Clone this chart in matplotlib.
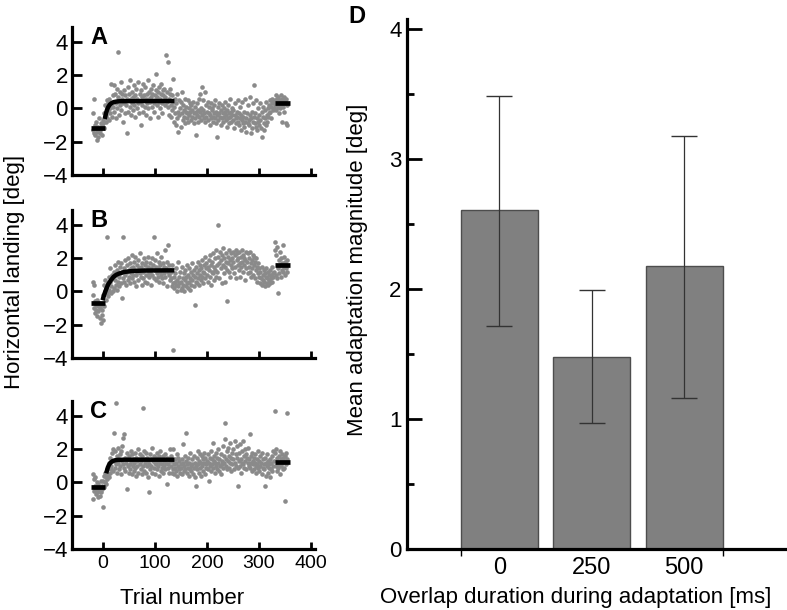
import numpy as np
import matplotlib
matplotlib.use("Agg")
import matplotlib.pyplot as plt

plt.rcParams['font.family'] = ['Liberation Sans', 'DejaVu Sans']

# ---- panel A: horizontal landing per trial ----
a_pre = [-1.3, -0.3, 0.6, -1.5, -1.0, -1.6, -1.2, -0.8, -1.9, -1.4,
         -1.1, -1.7, -0.6, -1.3, -1.5, -0.9, -1.2, -1.6, -1.0, -0.7]
a_adapt = [-0.9, -0.3, -1.2, -0.5, 0.2, -0.8, -0.4, 0.5, -0.6, -0.1,
           0.3, -0.7, 0.6, 0.0, -0.3, 1.5, 0.2, -0.5, 0.8, 0.1,
           1.4, -0.2, 0.4, 0.9, -0.6, 0.3, 1.2, 0.0, 0.7, 3.4,
           0.5, -0.4, 1.0, 0.2, 1.6, -0.1, 0.6, 0.9, -0.8, 0.3,
           1.1, 0.4, -0.3, 0.8, 0.2, -1.5, 0.6, 1.3, -0.2, 0.5,
           0.9, 0.1, 1.7, -0.4, 0.6, 0.3, 1.0, -0.1, 0.7, 1.4,
           0.2, 0.8, -0.5, 0.5, 1.2, 0.0, 0.6, 1.6, 0.3, -0.3,
           0.9, 0.4, -1.0, 1.1, 0.2, 0.7, 1.5, -0.2, 0.5, 0.8,
           0.1, 1.3, 0.6, -0.4, 0.9, 0.3, 1.7, 0.0, 0.6, 1.0,
           -0.6, 0.4, 1.2, 0.7, 0.1, 0.9, 1.4, 0.3, -0.2, 0.8,
           0.5, 1.1, 2.1, 0.2, 0.7, -0.5, 1.0, 0.4, 1.3, 0.6,
           0.0, 0.9, 1.5, 0.3, -0.3, 0.8, 1.1, 0.5, 1.2, 0.2,
           0.7, 3.2, 0.4, 1.0, 2.8, 0.1, 0.6, -0.4, 0.9, 1.2]
a_post = [0.2, -0.5, 0.8, -0.1, 1.8, 0.4, -0.8, 0.1, -0.3, 0.6,
          -1.0, 0.3, -0.6, 0.9, -1.4, -0.2, 0.5, -0.4, 0.0, -1.1,
          0.4, -0.3, 1.0, -0.7, 0.2, -0.5, -0.1, 0.6, -0.9, -0.2,
          0.1, -0.6, -0.3, 0.5, -0.8, 0.0, -0.4, 0.3, -0.2, -0.7,
          0.2, -0.5, -0.1, 0.4, -0.9, -0.3, 0.1, -0.6, -0.2, -1.6,
          -0.4, 0.3, -0.8, -0.1, 0.6, -0.5, -0.2, 0.9, -0.7, 0.0,
          1.3, -0.4, -0.1, 0.5, -0.6, -0.3, 1.0, -0.8, 0.2, -0.5,
          -0.2, 0.4, -0.7, -0.3, 0.1, -1.0, -0.4, 0.3, -0.6, -0.1,
          0.0, -0.5, -0.8, 0.2, -0.3, -0.6, 0.5, -0.9, -0.2, -1.7,
          -0.4, 0.1, -0.7, -0.3, 0.3, -0.5, -1.0, -0.1, -0.6, 0.2,
          -0.3, -0.8, 0.0, -0.5, -0.2, 0.4, -0.7, -0.4, -1.1, -0.1,
          -0.6, 0.2, -0.3, -0.9, 0.6, -0.5, -0.2, -0.8, 0.0, -0.4,
          -0.7, -0.1, -1.2, -0.4, 0.3, -0.6, -0.9, -0.2, -0.5, 0.5,
          -0.8, -0.3, -1.0, -0.6, 0.1, -1.3, -0.4, -0.7, 0.4, -0.9,
          -0.5, -1.1, -0.2, -0.8, 0.6, -0.6, -1.4, -0.3, -0.9, 0.2,
          -0.7, -1.0, -0.4, 0.7, -1.5, -0.6, -0.2, -1.2, -0.8, 0.3,
          -0.5, 1.4, -0.9, -0.3, -1.1, 0.5, -0.6, -1.3, 0.0, -0.8,
          -0.4, -1.0, 0.3, -0.7, -1.2, -0.2, -1.7, -0.5, 0.1, -0.9,
          -1.3, -0.6, -0.1, -1.0, 0.4, -0.4, -0.8, 0.0, -0.5, 0.2,
          -0.3, 0.5, -0.2, 0.1, -0.6, 0.6, 0.3, -0.1, 0.4, 0.0]
a_end = [0.5, 0.2, 0.8, -0.1, 0.4, 0.6, 0.1, 0.7, -0.3, 0.3,
         0.5, 0.0, 0.8, 0.2, -0.8, 0.6, 0.4, 0.1, 0.7, -0.2,
         0.5, 0.3, 0.6, -0.9, 0.2, -1.0]

# ---- panel B ----
b_pre = [0.6, -0.2, 0.4, -1.0, -0.6, -1.3, -0.8, -1.1, -0.5, -1.5,
         -0.9, -1.2, -0.7, -1.6, -1.0, -1.9, -0.8, -1.4, -1.1, -1.7]
b_adapt = [-0.2, 0.4, -0.9, 0.0, 0.7, -0.5, 0.2, -0.1, 3.3, 0.5,
           -0.3, 0.9, 0.1, 0.6, 1.4, -0.1, 0.3, 1.0, 0.0, 0.8,
           1.2, 0.2, 0.7, 1.6, 0.4, 1.0, 0.1, 1.3, 0.6, 1.8,
           0.9, 0.3, 1.5, 1.1, 0.5, 1.7, -0.4, 1.2, 0.8, 3.3,
           1.4, 0.6, 1.9, 1.0, 0.4, 1.6, 1.2, 0.7, 2.0, 1.3,
           0.9, 1.7, 0.5, 1.4, 1.1, 2.2, 0.8, 1.5, 1.0, 1.8,
           0.6, 1.3, 2.1, 1.0, 0.3, 1.6, 1.2, 1.9, 0.7, 1.4,
           1.1, 2.3, 0.9, 1.5, 0.4, 1.7, 1.2, 0.8, 2.0, 1.3,
           1.6, 0.6, 1.0, 1.8, 1.3, 0.5, 1.5, 2.1, 1.1, 0.9,
           1.7, 1.2, 0.4, 1.4, 2.0, 1.0, 1.6, 0.8, 3.3, 1.3,
           1.9, 0.7, 1.5, 1.1, 2.3, 0.9, 1.4, 1.8, 0.6, 1.2,
           1.6, 1.0, 2.1, 0.8, 1.3, 1.7, 0.5, 1.5, 1.1, 2.5,
           0.9, 1.4, 1.8, 0.3, 1.2, 2.8, 1.0, 1.6, 0.7, 1.3]
b_post = [0.8, 1.2, 0.3, 1.6, 0.5, -3.5, 0.9, 0.2, 1.1, 0.6,
          0.4, 1.4, 0.0, 0.7, 1.8, 0.3, 0.9, 0.5, 1.2, 0.1,
          0.6, 1.5, 0.2, 0.8, 0.4, 1.1, 0.0, 0.7, 1.3, 0.3,
          0.9, 0.5, 1.6, 0.2, 1.0, 0.6, 1.4, 0.1, 0.8, 1.2,
          0.4, 1.7, 0.7, 1.0, 0.3, 1.3, -0.8, 0.9, 1.5, 0.6,
          1.1, 0.5, 1.8, 0.8, 1.3, 0.4, 1.6, 1.0, 0.7, 1.4,
          1.9, 0.9, 1.2, 0.5, 1.6, 1.1, 2.1, 0.8, 1.4, 1.7,
          1.0, 1.5, 0.6, 1.9, 1.3, 2.2, 0.9, 1.6, 0.4, 1.2,
          1.8, 1.1, 2.3, 0.7, 1.5, 2.0, 1.3, 0.9, 2.5, 1.6,
          1.2, 2.1, 4.0, 1.7, 0.8, 2.4, 1.4, 1.9, 0.5, 2.2,
          1.6, 2.6, 1.1, 2.0, 1.5, 0.6, 2.3, 1.8, -0.6, 1.3,
          2.1, 1.7, 2.5, 1.2, 1.9, 0.9, 2.3, 1.6, 2.0, 1.4,
          2.4, 1.8, 1.1, 2.2, 1.5, 2.5, 0.8, 1.9, 2.3, 1.6,
          2.0, 1.3, 2.4, 1.7, 0.9, 2.1, 1.5, 2.5, 1.8, 1.2,
          2.2, 1.6, 2.0, 0.7, 1.9, 2.4, 1.4, 1.8, 1.1, 2.3,
          1.5, 2.0, 1.2, 2.4, 1.7, 0.9, 1.9, 1.4, 2.2, 1.0,
          1.6, 2.1, 0.8, 1.8, 1.3, 2.0, 0.6, 1.5, 1.1, 1.7,
          0.9, 1.4, 0.5, 1.2, 0.8, 1.5, 0.4, 1.0, 0.7, 1.3,
          0.6, 1.1, 0.3, 0.9, 1.4, 0.5, 0.8, 1.2, 0.4, 1.0,
          0.7, 1.3, 0.5, 1.0, 0.8, 1.5, 0.6, 1.1, 0.9, 1.2]
b_end = [2.5, 3.0, 1.0, 2.2, 0.8, 2.7, -0.1, 1.4, 1.9, 1.1,
         2.4, 1.6, 0.9, 2.0, 1.3, 1.7, 2.8, 1.2, 1.5, 2.1,
         1.0, 1.8, 1.4, 1.6, 1.2, 1.9]

# ---- panel C ----
c_pre = [0.5, -1.0, 0.2, -0.5, -0.2, 0.3, -0.7, -0.4, 0.0, -0.6,
         -0.9, -0.1, -0.5, -0.3, -0.8, 0.1, -0.6, -0.2, -0.4, -1.5]
c_adapt = [0.1, -0.3, 0.4, 0.0, 0.6, -0.1, 0.3, 0.8, 0.2, 0.5,
           0.9, 0.3, 1.2, 0.6, 1.5, 0.8, 1.0, 1.8, 0.7, 2.0,
           3.0, 1.3, 0.9, 1.9, 1.1, 4.8, 0.6, 1.6, 1.2, 2.1,
           0.8, 1.4, 1.7, 1.0, 1.9, 0.5, 1.3, 2.2, 2.7, 1.1,
           0.9, 2.9, 1.5, 0.7, 1.2, 1.8, -0.4, 1.0, 1.4, 0.6,
           1.6, 1.1, 0.8, 1.9, 1.3, 0.5, 1.7, 1.0, 1.4, 0.7,
           1.2, 1.8, 0.9, 1.5, 0.4, 1.3, 1.0, 2.0, 0.6, 1.4,
           1.1, 1.7, 0.8, 1.3, 0.5, 1.6, 4.5, 1.0, 1.9, 0.7,
           1.4, 1.2, 0.6, 1.8, 1.0, 1.5, 0.3, 1.3, -0.6, 1.1,
           1.7, 0.8, 1.4, 1.0, 2.1, 0.6, 1.3, 1.6, 0.9, 1.2,
           0.5, 1.5, 1.1, 1.8, 0.8, 1.3, 1.0, 1.6, 0.4, 1.2,
           1.9, 0.7, 1.4, 1.1, 0.9, 1.6, 0.6, 1.3, 1.0, 1.7,
           0.8, 1.2, 1.5, -0.1, 1.1, 0.9, 1.4, 0.6, 1.3, 2.0]
c_post = [1.0, 1.6, 0.6, 1.3, 0.8, 2.0, 1.1, 0.5, 1.4, 0.9,
          1.2, 0.7, 1.7, 0.4, 1.0, 1.5, 0.8, 1.3, 0.6, 1.1,
          0.9, 1.4, 0.5, 1.2, 2.3, 0.7, 1.0, 1.6, 0.8, 3.0,
          1.3, 0.6, 1.1, 0.9, 1.5, 0.4, 1.2, 0.8, 1.8, 1.0,
          0.7, 1.4, 1.1, 0.5, 1.6, 0.9, 1.2, 0.3, -0.2, 1.0,
          1.5, 0.8, 1.9, 1.1, 0.6, 1.3, 1.7, 0.9, 1.2, 0.4,
          1.6, 1.0, 1.4, 0.7, 1.8, 1.2, 0.5, 1.5, 1.1, 0.9,
          1.3, 1.7, 0.8, 1.2, 0.1, 1.5, 1.0, 1.9, 0.7, 1.4,
          1.1, 2.4, 0.9, 1.3, 1.6, 0.6, 1.2, 1.8, 1.0, 0.8,
          1.5, 1.2, 2.0, 0.7, 1.4, 1.0, 1.7, 0.5, 1.3, 1.1,
          2.2, 0.9, 1.6, 1.2, 2.6, 3.6, 1.0, 1.4, 0.8, 1.9,
          1.3, 2.1, 0.9, 1.6, 1.2, 2.4, 0.7, 1.5, 1.1, 1.8,
          1.4, 2.0, 0.8, 2.5, 1.2, 1.7, 1.0, 2.2, 1.5, 0.9,
          -0.2, 1.3, 1.8, 1.0, 2.3, 1.4, 0.6, 1.9, 1.2, 2.5,
          1.1, 1.6, 0.9, 2.0, 1.3, 1.7, 0.8, 1.5, 1.2, 2.1,
          1.0, 1.4, 2.9, 0.9, 1.6, 1.2, 1.8, 0.7, 1.3, 1.1,
          1.5, 0.8, 1.2, 1.7, 1.0, 0.6, 1.4, 1.1, 1.9, 0.9,
          1.3, 0.7, 1.6, 1.0, 1.2, 0.5, 1.8, 0.9, 1.4, 1.1,
          0.8, 1.5, -0.2, 1.2, 0.4, 1.0, 1.7, 0.6, 1.3, 0.9,
          1.1, 0.3, 1.4, 0.8, 1.2, 1.6, 0.7, 1.0, 1.9, 1.3]
c_end = [4.3, 1.8, 1.0, 2.0, 0.7, 1.5, 1.2, 0.9, 1.6, 1.1,
         1.9, 0.5, 1.4, 1.0, 1.7, 1.2, 0.8, 1.5, 1.3, 0.9,
         -1.1, 1.6, 1.1, 1.8, 4.2, 1.4]

# fitted curves and mean segments
fit_x = {'A': [4, 6, 8, 10, 13, 16, 20, 26, 35, 133],
         'B': [0, 3, 6, 10, 15, 20, 25, 30, 40, 55, 80, 133],
         'C': [7, 9, 11, 13, 15, 18, 22, 28, 40, 133]}
fit_y = {'A': [-0.5, -0.23, -0.03, 0.10, 0.24, 0.32, 0.38, 0.42, 0.44, 0.45],
         'B': [-0.4, -0.10, 0.15, 0.45, 0.68, 0.88, 1.0, 1.07, 1.17, 1.23, 1.26, 1.27],
         'C': [0.68, 0.90, 1.04, 1.14, 1.21, 1.28, 1.33, 1.36, 1.37, 1.37]}
base_level = {'A': -1.2, 'B': -0.72, 'C': -0.28}
end_level = {'A': 0.3, 'B': 1.6, 'C': 1.25}

# ---- panel D: bars ----
overlap = ['0', '250', '500']
mean_adapt = [2.61, 1.48, 2.18]
err_low = [1.72, 0.97, 1.16]
err_high = [3.49, 1.99, 3.18]

W, H = 787, 610
def rect(l, t, r, b):
    return [l / W, 1 - b / H, (r - l) / W, (b - t) / H]

fig = plt.figure(figsize=(7.87, 6.10), dpi=100)
dot = '#8a8a8a'

panels = [('A', a_pre + a_adapt + a_post + a_end, 27, 175),
          ('B', b_pre + b_adapt + b_post + b_end, 210, 358),
          ('C', c_pre + c_adapt + c_post + c_end, 401, 549)]
for name, ys, top, bot in panels:
    ax = fig.add_axes(rect(72, top, 315, bot))
    trials = np.arange(-20, -20 + len(ys))
    ax.scatter(trials, ys, s=11, color=dot, linewidths=0, zorder=2)
    ax.plot(fit_x[name], fit_y[name], color='black', lw=3.2, zorder=3)
    ax.plot([-23, 4], [base_level[name]] * 2, color='black', lw=3.4,
            solid_capstyle='butt', zorder=3)
    ax.plot([331, 360], [end_level[name]] * 2, color='black', lw=3.4,
            solid_capstyle='butt', zorder=3)
    ax.set_xlim(-60, 408)
    ax.set_ylim(-4, 4.9)
    ax.set_yticks([-4, -2, 0, 2, 4])
    ax.set_xticks([0, 100, 200, 300, 400])
    for s in ['top', 'right']:
        ax.spines[s].set_visible(False)
    for s in ['left', 'bottom']:
        ax.spines[s].set_linewidth(2.3)
    ax.tick_params(axis='y', direction='in', length=7, width=2.0, labelsize=16, pad=3)
    ax.tick_params(axis='x', direction='in', length=5, width=2.0, labelsize=14, pad=4)
    if name != 'C':
        ax.set_xticklabels([])
    ax.text(0.075, 1.01, name, transform=ax.transAxes, fontsize=17,
            fontweight='bold', va='top', ha='left')

fig.text(15 / W, 1 - 272 / H, 'Horizontal landing [deg]', rotation=90,
         ha='center', va='center', fontsize=16)
fig.text(182 / W, 1 - 598 / H, 'Trial number', ha='center', va='center', fontsize=16)

# bar panel
axd = fig.add_axes(rect(407, 19, 785, 549))
pos = np.arange(len(overlap))
yerr = [np.array(mean_adapt) - np.array(err_low), np.array(err_high) - np.array(mean_adapt)]
axd.bar(pos, mean_adapt, width=0.83, color='#808080', edgecolor='#4d4d4d', lw=1.0, zorder=2)
axd.errorbar(pos, mean_adapt, yerr=yerr, fmt='none', ecolor='#333333',
             elinewidth=0.9, capsize=9.5, capthick=1.0, zorder=3)
axd.set_xlim(-1.0, 3.09)
axd.set_ylim(0, 4.08)
axd.set_xticks(pos)
axd.set_xticklabels(overlap)
axd.set_xticks([-0.415, 2.415], minor=True)
axd.set_yticks([0, 1, 2, 3, 4])
axd.set_yticks([0.5, 1.5, 2.5, 3.5], minor=True)
for s in ['top', 'right']:
    axd.spines[s].set_visible(False)
for s in ['left', 'bottom']:
    axd.spines[s].set_linewidth(2.3)
axd.tick_params(axis='y', which='major', direction='in', length=11, width=2.0, labelsize=16, pad=4)
axd.tick_params(axis='y', which='minor', direction='in', length=5, width=2.0)
axd.tick_params(axis='x', which='major', direction='in', length=4, width=2.0, labelsize=17, pad=6)
axd.tick_params(axis='x', which='minor', direction='out', length=5, width=1.0)
fig.text(358 / W, 1 - 270 / H, 'Mean adaptation magnitude [deg]', rotation=90,
         ha='center', va='center', fontsize=16)
fig.text(576 / W, 1 - 597 / H, 'Overlap duration during adaptation [ms]',
         ha='center', va='center', fontsize=16)
fig.text(348 / W, 1 - 5 / H, 'D', fontsize=17, fontweight='bold', va='top', ha='left')

fig.savefig('out.png', dpi=100)
